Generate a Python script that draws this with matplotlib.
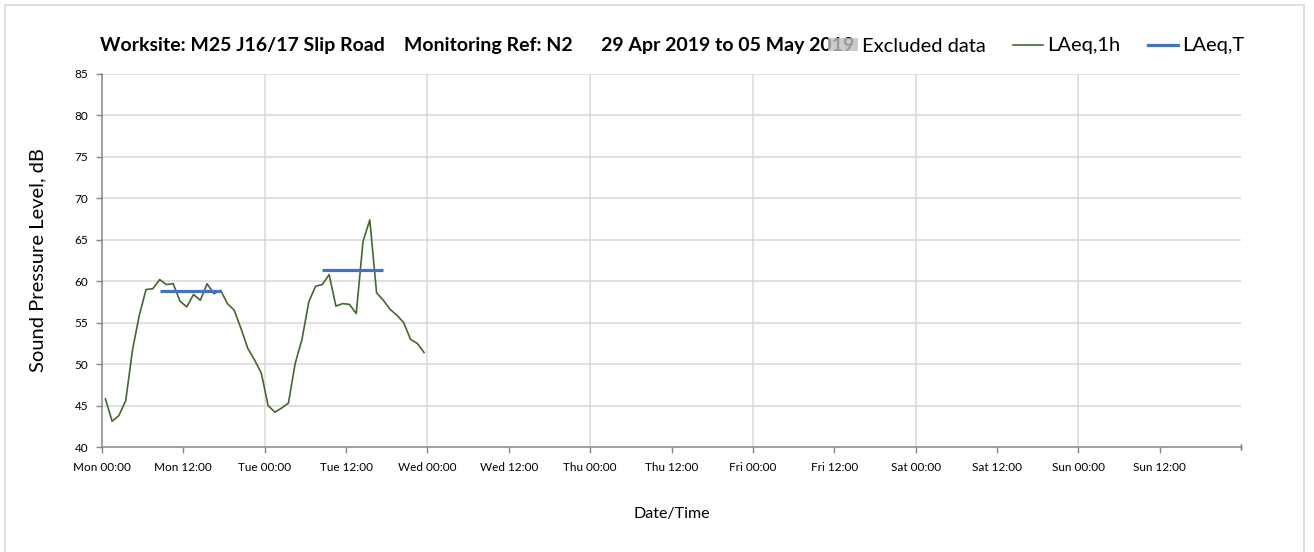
#!/usr/bin/env python3

import numpy as np
import matplotlib
matplotlib.use('Agg')
import matplotlib.pyplot as plt
from matplotlib.patches import Patch, Rectangle
from matplotlib.lines import Line2D

plt.rcParams['font.family'] = ['Lato', 'DejaVu Sans']

# hourly LAeq,1h values from Mon 00:00 (one per hour)
laeq_1h = [45.8, 43.1, 43.8, 45.6, 51.7, 55.9, 59.0, 59.1, 60.2, 59.6,
           59.7, 57.6, 56.9, 58.4, 57.7, 59.7, 58.5, 58.9, 57.3, 56.5,
           54.3, 51.9, 50.5, 48.9, 45.0, 44.2, 44.7, 45.3, 50.1, 53.0,
           57.5, 59.4, 59.6, 60.8, 57.0, 57.3, 57.2, 56.1, 64.8, 67.4,
           58.6, 57.7, 56.6, 55.9, 55.0, 53.0, 52.5, 51.4]

# daytime LAeq,T (08:00 - 18:00) per day
laeq_t_days = [0, 1]
laeq_t_values = [58.8, 61.4]
day_start_hour = 8
day_end_hour = 18

day_names = ['Mon', 'Tue', 'Wed', 'Thu', 'Fri', 'Sat', 'Sun']
title = ('Worksite: M25 J16/17 Slip Road    Monitoring Ref: N2      '
         '29 Apr 2019 to 05 May 2019')

green = '#43682B'
blue = '#4472C4'
grid_col = '#D9D9D9'
axis_col = '#868686'

fig = plt.figure(figsize=(13.14, 5.52), dpi=100)
ax = fig.add_axes([102 / 1314, 1 - 447 / 552, 1139 / 1314, 373 / 552])

# hourly points are centred in their hour
x_hours = np.arange(len(laeq_1h)) + 0.5
ax.plot(x_hours, laeq_1h, color=green, linewidth=1.2, zorder=3)

for d, v in zip(laeq_t_days, laeq_t_values):
    xs = [d * 24 + day_start_hour + 0.5, d * 24 + day_end_hour - 0.5]
    ax.plot(xs, [v, v], color=blue, linewidth=2.3, solid_capstyle='butt', zorder=4)

ax.set_xlim(0, 168)
ax.set_ylim(40, 85)

# ticks every 12 h, grid only at midnight
xticks = np.arange(0, 168, 12)
ax.set_xticks(xticks)
ax.set_xticklabels([f"{day_names[int(t // 24)]} {int(t % 24):02d}:00" for t in xticks])
ax.set_yticks(np.arange(40, 86, 5))

ax.grid(False)
for t in np.arange(24, 168, 24):
    ax.axvline(t, color=grid_col, linewidth=1.1, zorder=1)
for v in np.arange(45, 86, 5):
    ax.axhline(v, color=grid_col, linewidth=1.1, zorder=1)

for side in ['top', 'right']:
    ax.spines[side].set_visible(False)
for side in ['left', 'bottom']:
    ax.spines[side].set_color(axis_col)
    ax.spines[side].set_linewidth(1.1)
ax.tick_params(axis='both', which='major', colors=axis_col, length=4, width=1,
               labelcolor='black', labelsize=8.5)
ax.tick_params(axis='x', pad=7)
ax.tick_params(axis='y', pad=6)
# last tick mark at the end of the axis
ax.plot([168, 168], [40, 40], marker='|', markersize=5, color=axis_col, clip_on=False)

ax.set_xlabel('Date/Time', fontsize=11.5, labelpad=24)
ax.set_ylabel('Sound Pressure Level, dB', fontsize=14.5, labelpad=20)

fig.text(100 / 1314, 1 - 45 / 552, title, fontsize=14.0, fontweight='bold',
         va='center', ha='left')

handles = [Patch(facecolor='#BFBFBF', edgecolor='none', alpha=0.8),
           Line2D([], [], color=green, linewidth=1.2),
           Line2D([], [], color=blue, linewidth=2.3)]
leg = fig.legend(handles, ['Excluded data', 'LAeq,1h', 'LAeq,T'], ncol=3,
                 loc='center right', bbox_to_anchor=(1244 / 1314, 1 - 46 / 552),
                 frameon=False, fontsize=14.5, handlelength=1.5, handletextpad=0.2,
                 columnspacing=1.35, handleheight=0.6, borderpad=0, borderaxespad=0)

# light frame around the chart
fig.patches.append(Rectangle((5 / 1314, -0.01), 1299 / 1314, 1 - 5 / 552 + 0.01,
                             transform=fig.transFigure, fill=False,
                             edgecolor=grid_col, linewidth=1.2))

fig.savefig('out.png', dpi=100)
